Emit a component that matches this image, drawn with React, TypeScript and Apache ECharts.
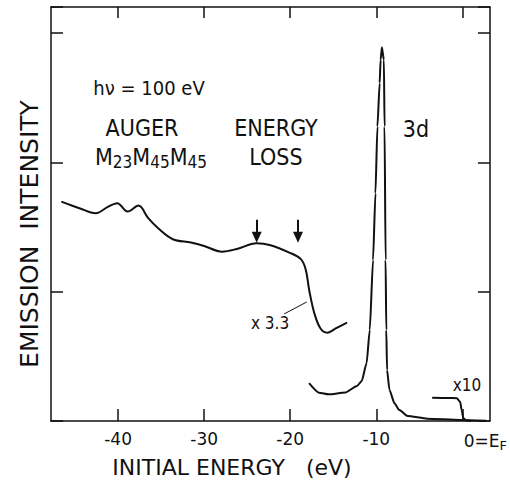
import React, { useEffect, useRef } from 'react';
import * as echarts from 'echarts';

// Tick values
const xTicks = [-40, -30, -20, -10, 0];

// Valence band / energy-loss region (x 3.3)
const lossE = [-46.6, -44.5, -42.6, -41.2, -40.1, -38.9, -37.64, -36.5, -35.35, -33.64, -31.54, -30.01, -27.92, -26.2, -23.9, -22.4, -20.1, -18.76, -18.19, -17.8, -17.2, -16.5, -15.7, -14.6, -13.4];
const lossV = [1.696, 1.645, 1.606, 1.655, 1.684, 1.619, 1.665, 1.568, 1.49, 1.405, 1.379, 1.353, 1.309, 1.33, 1.374, 1.361, 1.302, 1.251, 1.168, 1.013, 0.833, 0.717, 0.683, 0.72, 0.76];

// 3d peak
const peakE = [-17.81, -16.67, -15.53, -13.6, -12.24, -11.7, -11.13, -10.76, -10.38, -10.1, -9.87, -9.61, -9.5, -9.35, -9.12, -9.04, -8.92, -8.84, -8.75, -8.47, -7.89, -7.32, -6.37, -4.08, -0.26, 2.75];
const peakV = [0.292, 0.219, 0.206, 0.22, 0.271, 0.309, 0.446, 0.704, 1.245, 1.761, 2.276, 2.612, 2.792, 2.889, 2.792, 2.276, 1.245, 0.704, 0.394, 0.24, 0.137, 0.085, 0.039, 0.018, 0.008, 0.002];

// Fermi edge (x 10)
const fermiE = [-3.51, -1.6, -0.65, -0.26, -0.08, 0.11, 0.49, 1.03];
const fermiV = [0.18, 0.178, 0.176, 0.149, 0.085, 0.021, 0.004, 0.0];

// Arrow positions (eV) and leader line
const arrowE = [-23.9, -19.1];
const arrowTop = 1.555;
const arrowBottom = 1.42;
const leader = [[-20.7, 0.828], [-18.08, 0.92]];

const FONT = "'Liberation Sans Narrow', 'DejaVu Sans Condensed', 'Arial Narrow', sans-serif";
const WIDE = "'DejaVu Sans', sans-serif";
const INK = '#111';

export default function App() {
  const ref = useRef<HTMLDivElement>(null);
  useEffect(() => {
    document.body.style.margin = '0';
    const chart = echarts.init(ref.current!, null, { renderer: 'svg' });
    const zip = (xs: number[], ys: number[]) => xs.map((x, i) => [x, ys[i]]);
    const curve = { color: INK, width: 2 };
    const axisLine = { show: true, onZero: false, lineStyle: { color: INK, width: 1.5 } };
    const tick = { show: true, inside: true, length: 12, lineStyle: { color: INK, width: 1.5 } };
    chart.setOption({
      animation: false,
      backgroundColor: '#fff',
      grid: { left: 51, right: 13, top: 7, bottom: 62 },
      xAxis: [
        {
          type: 'value', min: -47.8, max: 3.2, position: 'bottom',
          splitLine: { show: false },
          axisLine,
          axisTick: { ...tick, customValues: xTicks },
          axisLabel: {
            customValues: xTicks, margin: 9, fontSize: 17, color: INK, fontFamily: WIDE,
            formatter: (v: number) => (v === 0 ? '{z|0=E}{s|F}' : String(v)),
            rich: {
              z: { fontSize: 17, fontFamily: WIDE, color: INK, padding: [0, 0, 0, 46] },
              s: { fontSize: 13, fontFamily: WIDE, color: INK, padding: [9, 0, 0, 0] },
            },
          },
        },
        {
          type: 'value', min: -47.8, max: 3.2, position: 'top',
          splitLine: { show: false },
          axisLine,
          axisTick: { ...tick, length: 11, customValues: xTicks },
          axisLabel: { show: false },
        },
      ],
      yAxis: [
        {
          type: 'value', min: 0, max: 3.2, interval: 1, position: 'left',
          splitLine: { show: false }, axisLine, axisTick: tick, axisLabel: { show: false },
        },
        {
          type: 'value', min: 0, max: 3.2, interval: 1, position: 'right',
          splitLine: { show: false }, axisLine, axisTick: tick, axisLabel: { show: false },
        },
      ],
      series: [
        {
          type: 'line', data: zip(lossE, lossV), smooth: 0.35, symbol: 'none', lineStyle: curve,
          markLine: {
            silent: true,
            label: { show: false },
            data: [
              ...arrowE.map((e) => [
                { coord: [e, arrowTop], symbol: 'none' },
                { coord: [e, arrowBottom], symbol: 'triangle', symbolSize: [10, 11], symbolRotate: 180 },
              ]),
              [
                { coord: leader[0], symbol: 'none', lineStyle: { width: 1 } },
                { coord: leader[1], symbol: 'none' },
              ],
            ],
            lineStyle: { color: INK, width: 2, type: 'solid' },
          },
        },
        { type: 'line', data: zip(peakE, peakV), smooth: 0.2, smoothMonotone: 'x', symbol: 'none', lineStyle: curve },
        { type: 'line', data: zip(fermiE, fermiV), smooth: 0.3, smoothMonotone: 'x', symbol: 'none', lineStyle: curve },
      ],
      graphic: [
        { type: 'text', x: 149, y: 88, style: { text: 'hν = 100 eV', font: `20px ${FONT}`, fill: INK, align: 'center', verticalAlign: 'middle' } },
        { type: 'text', x: 142, y: 128, style: { text: 'AUGER', font: `23px ${FONT}`, fill: INK, align: 'center', verticalAlign: 'middle' } },
        {
          type: 'text', x: 95, y: 157,
          style: {
            text: '{m|M}{s|23}{m|M}{s|45}{m|M}{s|45}', align: 'left', verticalAlign: 'middle', fill: INK,
            rich: {
              m: { fontSize: 23, fontFamily: FONT, fill: INK },
              s: { fontSize: 17, fontFamily: FONT, fill: INK, padding: [10, 0, 0, 0] },
            },
          },
        },
        { type: 'text', x: 276, y: 128, style: { text: 'ENERGY', font: `23px ${FONT}`, fill: INK, align: 'center', verticalAlign: 'middle' } },
        { type: 'text', x: 276, y: 157, style: { text: 'LOSS', font: `23px ${FONT}`, fill: INK, align: 'center', verticalAlign: 'middle' } },
        { type: 'text', x: 416, y: 129, style: { text: '3d', font: `23px ${FONT}`, fill: INK, align: 'center', verticalAlign: 'middle' } },
        { type: 'text', x: 270, y: 323, style: { text: 'x 3.3', font: `17px ${FONT}`, fill: INK, align: 'center', verticalAlign: 'middle' } },
        { type: 'text', x: 467, y: 385, style: { text: 'x10', font: `17px ${FONT}`, fill: INK, align: 'center', verticalAlign: 'middle' } },
        { type: 'text', x: 232, y: 467, style: { text: 'INITIAL ENERGY   (eV)', font: `22px ${WIDE}`, fill: INK, align: 'center', verticalAlign: 'middle' } },
        { type: 'text', x: 29, y: 234, rotation: Math.PI / 2, style: { text: 'EMISSION  INTENSITY', font: `25px ${WIDE}`, fill: INK, align: 'center', verticalAlign: 'middle' } },
      ],
    });
    return () => chart.dispose();
  }, []);
  return <div ref={ref} style={{ width: 510, height: 483 }} />;
}
